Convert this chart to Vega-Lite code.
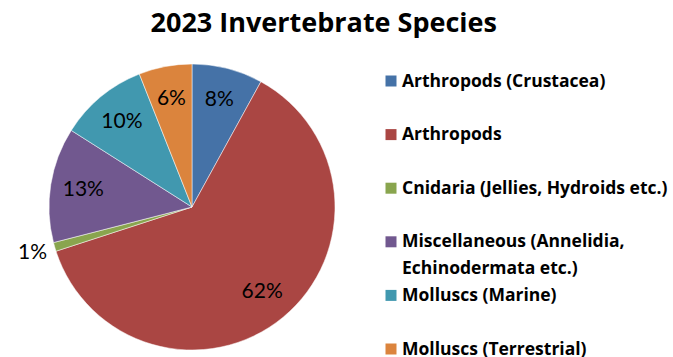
{
  "$schema": "https://vega.github.io/schema/vega-lite/v6.json",
  "padding": {"left": 18, "top": 10, "right": 0, "bottom": 0},
  "background": "white",
  "title": {
    "text": "2023 Invertebrate Species",
    "font": "Open Sans",
    "fontSize": 27,
    "fontWeight": "bold",
    "color": "#000000",
    "anchor": "middle",
    "dx": -19,
    "offset": 25
  },
  "datasets": {
    "species": [
      {"group": "Arthropods (Crustacea)", "share": 8},
      {"group": "Arthropods", "share": 62},
      {"group": "Cnidaria (Jellies, Hydroids etc.)", "share": 1},
      {"group": "Miscellaneous (Annelidia,\nEchinodermata etc.)", "share": 13},
      {"group": "Molluscs (Marine)", "share": 10},
      {"group": "Molluscs (Terrestrial)", "share": 6}
    ]
  },
  "config": {"view": {"stroke": null}},
  "spacing": 49,
  "hconcat": [
    {
      "width": 286,
      "height": 286,
      "data": {"name": "species"},
      "transform": [
        {"window": [{"op": "row_number", "as": "idx"}]},
        {"window": [{"op": "sum", "field": "share", "as": "cum"}], "sort": [{"field": "idx"}], "frame": [null, 0]},
        {"calculate": "datum.cum - datum.share / 2", "as": "mid"},
        {"calculate": "datum.share + '%'", "as": "label"}
      ],
      "layer": [
        {
          "mark": {"type": "arc", "stroke": "#ffffff", "strokeWidth": 0.5},
          "encoding": {
            "theta": {"field": "share", "type": "quantitative", "stack": true, "scale": {"domain": [0, 100]}},
            "order": {"field": "idx", "type": "quantitative"},
            "color": {
              "field": "group",
              "type": "nominal",
              "legend": null,
              "scale": {
                "domain": [
                  "Arthropods (Crustacea)",
                  "Arthropods",
                  "Cnidaria (Jellies, Hydroids etc.)",
                  "Miscellaneous (Annelidia,\nEchinodermata etc.)",
                  "Molluscs (Marine)",
                  "Molluscs (Terrestrial)"
                ],
                "range": ["#4572A7", "#AA4643", "#89A54E", "#71588F", "#4198AF", "#DB843D"]
              }
            }
          }
        },
        {
          "transform": [{"filter": "datum.share >= 2"}],
          "mark": {"type": "text", "radius": 110, "font": "Lato", "fontSize": 21, "color": "#000000"},
          "encoding": {
            "theta": {"field": "mid", "type": "quantitative", "stack": false, "scale": {"domain": [0, 100]}},
            "text": {"field": "label"}
          }
        },
        {
          "transform": [{"filter": "datum.share < 2"}],
          "mark": {"type": "text", "radius": 166, "font": "Lato", "fontSize": 21, "color": "#000000"},
          "encoding": {
            "theta": {"field": "mid", "type": "quantitative", "stack": false, "scale": {"domain": [0, 100]}},
            "text": {"field": "label"}
          }
        }
      ]
    },
    {
      "width": 12,
      "height": 286,
      "data": {"name": "species"},
      "encoding": {
        "y": {
          "field": "group",
          "type": "nominal",
          "sort": null,
          "axis": null,
          "scale": {"type": "point", "range": [17, 285], "padding": 0}
        }
      },
      "layer": [
        {
          "mark": {"type": "square", "size": 121, "opacity": 1},
          "encoding": {
            "color": {
              "field": "group",
              "type": "nominal",
              "legend": null,
              "scale": {
                "domain": [
                  "Arthropods (Crustacea)",
                  "Arthropods",
                  "Cnidaria (Jellies, Hydroids etc.)",
                  "Miscellaneous (Annelidia,\nEchinodermata etc.)",
                  "Molluscs (Marine)",
                  "Molluscs (Terrestrial)"
                ],
                "range": ["#4572A7", "#AA4643", "#89A54E", "#71588F", "#4198AF", "#DB843D"]
              }
            }
          }
        },
        {
          "mark": {
            "type": "text",
            "align": "left",
            "baseline": "top",
            "dx": 11,
            "dy": -8.5,
            "lineBreak": "\n",
            "lineHeight": 27,
            "font": "Open Sans",
            "fontSize": 17.5,
            "fontWeight": "bold",
            "color": "#000000"
          },
          "encoding": {"text": {"field": "group"}}
        }
      ]
    }
  ]
}
